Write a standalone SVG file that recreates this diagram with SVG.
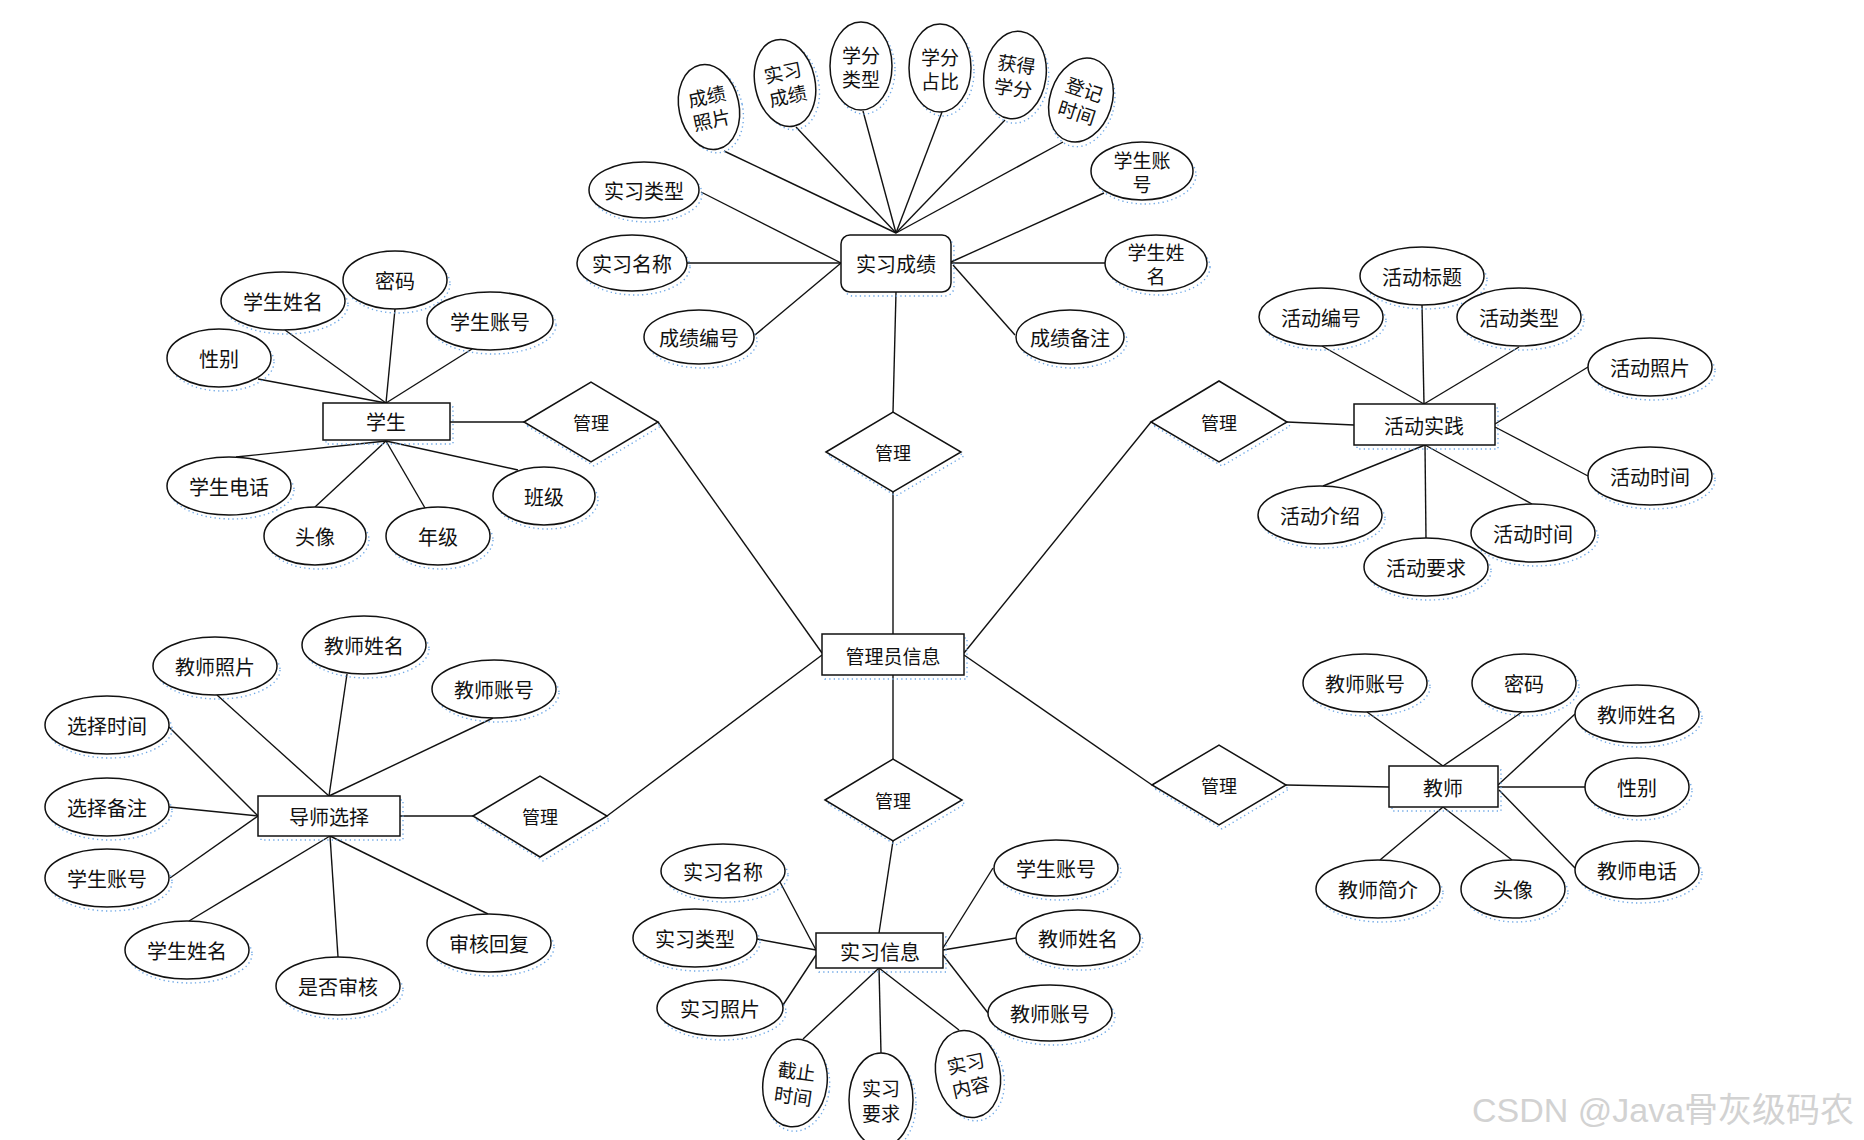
<svg xmlns="http://www.w3.org/2000/svg" width="1864" height="1140" viewBox="0 0 1864 1140">
<style>
.bg{fill:#fff}
.c line{stroke:#111;stroke-width:1.4;fill:none}
.e{fill:#fff;stroke:#111;stroke-width:1.5}
.sh{fill:none;stroke:#6fa8e6;stroke-width:1.4;stroke-dasharray:1.3 3.2;transform:translate(3px,4px)}
.t{font-family:"Noto Sans CJK SC","Noto Sans CJK TC",sans-serif;font-size:20px;fill:#111;text-anchor:middle;dominant-baseline:central}
.s19{font-size:19px}
.s18{font-size:18px}
.wm{font-family:"Liberation Sans","Noto Sans CJK SC",sans-serif;font-size:34px;fill:#d2d2d2}
</style>
<rect class="bg" x="0" y="0" width="1864" height="1140"/>

<g id="connectors" class="c">
<!-- 实习成绩 -->
<line x1="724" y1="151" x2="896" y2="233"/>
<line x1="796" y1="127" x2="896" y2="233"/>
<line x1="863" y1="111" x2="896" y2="233"/>
<line x1="942" y1="112" x2="896" y2="233"/>
<line x1="1005" y1="120" x2="896" y2="233"/>
<line x1="1063" y1="142" x2="896" y2="233"/>
<line x1="701" y1="192" x2="841" y2="263"/>
<line x1="686" y1="263" x2="841" y2="263"/>
<line x1="755" y1="335" x2="841" y2="263"/>
<line x1="1104" y1="193" x2="951" y2="262"/>
<line x1="1105" y1="263" x2="951" y2="263"/>
<line x1="1015" y1="335" x2="953" y2="265"/>
<line x1="896" y1="292" x2="893" y2="412"/>
<line x1="893" y1="492" x2="893" y2="634"/>
<!-- 学生 -->
<line x1="285" y1="330" x2="386" y2="403"/>
<line x1="395" y1="309" x2="386" y2="403"/>
<line x1="472" y1="349" x2="386" y2="403"/>
<line x1="258" y1="379" x2="386" y2="403"/>
<line x1="236" y1="457" x2="386" y2="441"/>
<line x1="315" y1="507" x2="386" y2="441"/>
<line x1="425" y1="508" x2="386" y2="441"/>
<line x1="518" y1="470" x2="386" y2="441"/>
<line x1="450" y1="422" x2="524" y2="422"/>
<line x1="658" y1="422" x2="822" y2="653"/>
<!-- 活动实践 -->
<line x1="1322" y1="346" x2="1424" y2="404"/>
<line x1="1422" y1="305" x2="1424" y2="404"/>
<line x1="1519" y1="347" x2="1424" y2="404"/>
<line x1="1588" y1="367" x2="1495" y2="424"/>
<line x1="1588" y1="476" x2="1495" y2="427"/>
<line x1="1323" y1="486" x2="1425" y2="445"/>
<line x1="1426" y1="538" x2="1425" y2="445"/>
<line x1="1532" y1="504" x2="1425" y2="445"/>
<line x1="1287" y1="422" x2="1354" y2="425"/>
<line x1="1151" y1="422" x2="964" y2="653"/>
<!-- 导师选择 -->
<line x1="217" y1="695" x2="329" y2="796"/>
<line x1="347" y1="674" x2="329" y2="796"/>
<line x1="493" y1="718" x2="329" y2="796"/>
<line x1="169" y1="727" x2="258" y2="816"/>
<line x1="169" y1="807" x2="258" y2="816"/>
<line x1="170" y1="878" x2="258" y2="816"/>
<line x1="189" y1="921" x2="330" y2="836"/>
<line x1="338" y1="957" x2="330" y2="836"/>
<line x1="488" y1="914" x2="330" y2="836"/>
<line x1="400" y1="816" x2="473" y2="816"/>
<line x1="607" y1="816" x2="822" y2="655"/>
<!-- 教师 -->
<line x1="1367" y1="712" x2="1443" y2="766"/>
<line x1="1522" y1="712" x2="1443" y2="766"/>
<line x1="1575" y1="714" x2="1498" y2="785"/>
<line x1="1585" y1="787" x2="1498" y2="787"/>
<line x1="1575" y1="868" x2="1499" y2="790"/>
<line x1="1380" y1="860" x2="1443" y2="807"/>
<line x1="1512" y1="860" x2="1443" y2="807"/>
<line x1="1286" y1="785" x2="1389" y2="787"/>
<line x1="1152" y1="785" x2="964" y2="655"/>
<!-- 管理员信息 -> 实习信息 -->
<line x1="893" y1="675" x2="893" y2="759"/>
<line x1="893" y1="841" x2="879" y2="933"/>
<!-- 实习信息 -->
<line x1="780" y1="882" x2="816" y2="950"/>
<line x1="757" y1="939" x2="816" y2="950"/>
<line x1="783" y1="1005" x2="816" y2="955"/>
<line x1="803" y1="1039" x2="879" y2="968"/>
<line x1="881" y1="1053" x2="879" y2="968"/>
<line x1="959" y1="1030" x2="879" y2="968"/>
<line x1="993" y1="868" x2="943" y2="948"/>
<line x1="1016" y1="938" x2="943" y2="950"/>
<line x1="988" y1="1013" x2="943" y2="955"/>
</g>

<!-- ===== 实习成绩 ===== -->
<g id="e-sxcj"><rect class="sh" x="841" y="235" width="110" height="57" rx="9"/><rect class="e" x="841" y="235" width="110" height="57" rx="9"/><text class="t" x="896" y="263">实习成绩</text></g>
<g id="a-cjzp" transform="rotate(-12 709 107)"><ellipse class="sh" cx="709" cy="107" rx="30" ry="43"/><ellipse class="e" cx="709" cy="107" rx="30" ry="43"/><text class="t s19" x="709" y="95">成绩</text><text class="t s19" x="709" y="119">照片</text></g>
<g id="a-sxcj2" transform="rotate(-12 785 83)"><ellipse class="sh" cx="785" cy="83" rx="30" ry="44"/><ellipse class="e" cx="785" cy="83" rx="30" ry="44"/><text class="t s19" x="785" y="71">实习</text><text class="t s19" x="785" y="95">成绩</text></g>
<g id="a-xflx"><ellipse class="sh" cx="861" cy="66" rx="31" ry="44"/><ellipse class="e" cx="861" cy="66" rx="31" ry="44"/><text class="t s19" x="861" y="54">学分</text><text class="t s19" x="861" y="78">类型</text></g>
<g id="a-xfzb"><ellipse class="sh" cx="940" cy="68" rx="31" ry="44"/><ellipse class="e" cx="940" cy="68" rx="31" ry="44"/><text class="t s19" x="940" y="56">学分</text><text class="t s19" x="940" y="80">占比</text></g>
<g id="a-hdxf" transform="rotate(8 1015 75)"><ellipse class="sh" cx="1015" cy="75" rx="31" ry="44"/><ellipse class="e" cx="1015" cy="75" rx="31" ry="44"/><text class="t s19" x="1015" y="63">获得</text><text class="t s19" x="1015" y="87">学分</text></g>
<g id="a-djsj" transform="rotate(18 1081 100)"><ellipse class="sh" cx="1081" cy="100" rx="31" ry="43"/><ellipse class="e" cx="1081" cy="100" rx="31" ry="43"/><text class="t s19" x="1081" y="88">登记</text><text class="t s19" x="1081" y="112">时间</text></g>
<g id="a-sxlx1"><ellipse class="sh" cx="644" cy="190" rx="55" ry="28"/><ellipse class="e" cx="644" cy="190" rx="55" ry="28"/><text class="t" x="644" y="190">实习类型</text></g>
<g id="a-sxmc1"><ellipse class="sh" cx="632" cy="263" rx="55" ry="28"/><ellipse class="e" cx="632" cy="263" rx="55" ry="28"/><text class="t" x="632" y="263">实习名称</text></g>
<g id="a-cjbh"><ellipse class="sh" cx="699" cy="337" rx="55" ry="27"/><ellipse class="e" cx="699" cy="337" rx="55" ry="27"/><text class="t" x="699" y="337">成绩编号</text></g>
<g id="a-xszh1"><ellipse class="sh" cx="1142" cy="171" rx="51" ry="29"/><ellipse class="e" cx="1142" cy="171" rx="51" ry="29"/><text class="t s19" x="1142" y="159">学生账</text><text class="t s19" x="1142" y="183">号</text></g>
<g id="a-xsxm1"><ellipse class="sh" cx="1156" cy="263" rx="51" ry="28"/><ellipse class="e" cx="1156" cy="263" rx="51" ry="28"/><text class="t s19" x="1156" y="251">学生姓</text><text class="t s19" x="1156" y="275">名</text></g>
<g id="a-cjbz"><ellipse class="sh" cx="1070" cy="337" rx="54" ry="27"/><ellipse class="e" cx="1070" cy="337" rx="54" ry="27"/><text class="t" x="1070" y="337">成绩备注</text></g>
<g id="r-top"><polygon class="sh" points="826,452 893,412 961,452 893,492"/><polygon class="e" points="826,452 893,412 961,452 893,492"/><text class="t s18" x="893" y="452">管理</text></g>

<!-- ===== 学生 ===== -->
<g id="e-xs"><rect class="sh" x="323" y="403" width="127" height="37"/><rect class="e" x="323" y="403" width="127" height="37"/><text class="t" x="386" y="421">学生</text></g>
<g id="a-xsxm2"><ellipse class="sh" cx="283" cy="301" rx="62" ry="29"/><ellipse class="e" cx="283" cy="301" rx="62" ry="29"/><text class="t" x="283" y="301">学生姓名</text></g>
<g id="a-mm1"><ellipse class="sh" cx="395" cy="280" rx="52" ry="29"/><ellipse class="e" cx="395" cy="280" rx="52" ry="29"/><text class="t" x="395" y="280">密码</text></g>
<g id="a-xszh2"><ellipse class="sh" cx="490" cy="321" rx="63" ry="29"/><ellipse class="e" cx="490" cy="321" rx="63" ry="29"/><text class="t" x="490" y="321">学生账号</text></g>
<g id="a-xb1"><ellipse class="sh" cx="219" cy="358" rx="52" ry="29"/><ellipse class="e" cx="219" cy="358" rx="52" ry="29"/><text class="t" x="219" y="358">性别</text></g>
<g id="a-xsdh"><ellipse class="sh" cx="229" cy="486" rx="62" ry="29"/><ellipse class="e" cx="229" cy="486" rx="62" ry="29"/><text class="t" x="229" y="486">学生电话</text></g>
<g id="a-tx1"><ellipse class="sh" cx="315" cy="536" rx="51" ry="29"/><ellipse class="e" cx="315" cy="536" rx="51" ry="29"/><text class="t" x="315" y="536">头像</text></g>
<g id="a-nj"><ellipse class="sh" cx="438" cy="536" rx="52" ry="29"/><ellipse class="e" cx="438" cy="536" rx="52" ry="29"/><text class="t" x="438" y="536">年级</text></g>
<g id="a-bj"><ellipse class="sh" cx="544" cy="496" rx="51" ry="29"/><ellipse class="e" cx="544" cy="496" rx="51" ry="29"/><text class="t" x="544" y="496">班级</text></g>
<g id="r-xs"><polygon class="sh" points="524,422 591,382 658,422 591,462"/><polygon class="e" points="524,422 591,382 658,422 591,462"/><text class="t s18" x="591" y="422">管理</text></g>

<!-- ===== 活动实践 ===== -->
<g id="e-hdsj"><rect class="sh" x="1354" y="404" width="141" height="41"/><rect class="e" x="1354" y="404" width="141" height="41"/><text class="t" x="1424" y="425">活动实践</text></g>
<g id="a-hdbh"><ellipse class="sh" cx="1321" cy="317" rx="62" ry="29"/><ellipse class="e" cx="1321" cy="317" rx="62" ry="29"/><text class="t" x="1321" y="317">活动编号</text></g>
<g id="a-hdbt"><ellipse class="sh" cx="1422" cy="276" rx="62" ry="29"/><ellipse class="e" cx="1422" cy="276" rx="62" ry="29"/><text class="t" x="1422" y="276">活动标题</text></g>
<g id="a-hdlx"><ellipse class="sh" cx="1519" cy="317" rx="62" ry="29"/><ellipse class="e" cx="1519" cy="317" rx="62" ry="29"/><text class="t" x="1519" y="317">活动类型</text></g>
<g id="a-hdzp"><ellipse class="sh" cx="1650" cy="367" rx="62" ry="29"/><ellipse class="e" cx="1650" cy="367" rx="62" ry="29"/><text class="t" x="1650" y="367">活动照片</text></g>
<g id="a-hdsj1"><ellipse class="sh" cx="1650" cy="476" rx="62" ry="29"/><ellipse class="e" cx="1650" cy="476" rx="62" ry="29"/><text class="t" x="1650" y="476">活动时间</text></g>
<g id="a-hdjs"><ellipse class="sh" cx="1320" cy="515" rx="62" ry="29"/><ellipse class="e" cx="1320" cy="515" rx="62" ry="29"/><text class="t" x="1320" y="515">活动介绍</text></g>
<g id="a-hdyq"><ellipse class="sh" cx="1426" cy="567" rx="62" ry="29"/><ellipse class="e" cx="1426" cy="567" rx="62" ry="29"/><text class="t" x="1426" y="567">活动要求</text></g>
<g id="a-hdsj2"><ellipse class="sh" cx="1533" cy="533" rx="62" ry="29"/><ellipse class="e" cx="1533" cy="533" rx="62" ry="29"/><text class="t" x="1533" y="533">活动时间</text></g>
<g id="r-hd"><polygon class="sh" points="1151,422 1219,381 1287,422 1219,462"/><polygon class="e" points="1151,422 1219,381 1287,422 1219,462"/><text class="t s18" x="1219" y="422">管理</text></g>

<!-- ===== 管理员信息 ===== -->
<g id="e-gly"><rect class="sh" x="822" y="634" width="142" height="41"/><rect class="e" x="822" y="634" width="142" height="41"/><text class="t s19" x="893" y="655">管理员信息</text></g>

<!-- ===== 导师选择 ===== -->
<g id="e-dsxz"><rect class="sh" x="258" y="796" width="142" height="40"/><rect class="e" x="258" y="796" width="142" height="40"/><text class="t" x="329" y="816">导师选择</text></g>
<g id="a-jszp"><ellipse class="sh" cx="215" cy="666" rx="62" ry="29"/><ellipse class="e" cx="215" cy="666" rx="62" ry="29"/><text class="t" x="215" y="666">教师照片</text></g>
<g id="a-jsxm1"><ellipse class="sh" cx="364" cy="645" rx="62" ry="29"/><ellipse class="e" cx="364" cy="645" rx="62" ry="29"/><text class="t" x="364" y="645">教师姓名</text></g>
<g id="a-jszh1"><ellipse class="sh" cx="494" cy="689" rx="62" ry="29"/><ellipse class="e" cx="494" cy="689" rx="62" ry="29"/><text class="t" x="494" y="689">教师账号</text></g>
<g id="a-xzsj"><ellipse class="sh" cx="107" cy="725" rx="62" ry="29"/><ellipse class="e" cx="107" cy="725" rx="62" ry="29"/><text class="t" x="107" y="725">选择时间</text></g>
<g id="a-xzbz"><ellipse class="sh" cx="107" cy="807" rx="62" ry="29"/><ellipse class="e" cx="107" cy="807" rx="62" ry="29"/><text class="t" x="107" y="807">选择备注</text></g>
<g id="a-xszh3"><ellipse class="sh" cx="107" cy="878" rx="62" ry="29"/><ellipse class="e" cx="107" cy="878" rx="62" ry="29"/><text class="t" x="107" y="878">学生账号</text></g>
<g id="a-xsxm3"><ellipse class="sh" cx="187" cy="950" rx="62" ry="29"/><ellipse class="e" cx="187" cy="950" rx="62" ry="29"/><text class="t" x="187" y="950">学生姓名</text></g>
<g id="a-sfsh"><ellipse class="sh" cx="338" cy="986" rx="62" ry="29"/><ellipse class="e" cx="338" cy="986" rx="62" ry="29"/><text class="t" x="338" y="986">是否审核</text></g>
<g id="a-shhf"><ellipse class="sh" cx="489" cy="943" rx="62" ry="29"/><ellipse class="e" cx="489" cy="943" rx="62" ry="29"/><text class="t" x="489" y="943">审核回复</text></g>
<g id="r-ds"><polygon class="sh" points="473,816 540,776 607,816 540,857"/><polygon class="e" points="473,816 540,776 607,816 540,857"/><text class="t s18" x="540" y="816">管理</text></g>

<!-- ===== 教师 ===== -->
<g id="e-js"><rect class="sh" x="1389" y="766" width="109" height="41"/><rect class="e" x="1389" y="766" width="109" height="41"/><text class="t" x="1443" y="787">教师</text></g>
<g id="a-jszh2"><ellipse class="sh" cx="1365" cy="683" rx="62" ry="29"/><ellipse class="e" cx="1365" cy="683" rx="62" ry="29"/><text class="t" x="1365" y="683">教师账号</text></g>
<g id="a-mm2"><ellipse class="sh" cx="1524" cy="683" rx="52" ry="29"/><ellipse class="e" cx="1524" cy="683" rx="52" ry="29"/><text class="t" x="1524" y="683">密码</text></g>
<g id="a-jsxm2"><ellipse class="sh" cx="1637" cy="714" rx="62" ry="29"/><ellipse class="e" cx="1637" cy="714" rx="62" ry="29"/><text class="t" x="1637" y="714">教师姓名</text></g>
<g id="a-xb2"><ellipse class="sh" cx="1637" cy="787" rx="52" ry="29"/><ellipse class="e" cx="1637" cy="787" rx="52" ry="29"/><text class="t" x="1637" y="787">性别</text></g>
<g id="a-jsdh"><ellipse class="sh" cx="1637" cy="870" rx="62" ry="29"/><ellipse class="e" cx="1637" cy="870" rx="62" ry="29"/><text class="t" x="1637" y="870">教师电话</text></g>
<g id="a-jsjj"><ellipse class="sh" cx="1378" cy="889" rx="62" ry="29"/><ellipse class="e" cx="1378" cy="889" rx="62" ry="29"/><text class="t" x="1378" y="889">教师简介</text></g>
<g id="a-tx2"><ellipse class="sh" cx="1513" cy="889" rx="52" ry="29"/><ellipse class="e" cx="1513" cy="889" rx="52" ry="29"/><text class="t" x="1513" y="889">头像</text></g>
<g id="r-js"><polygon class="sh" points="1152,785 1219,745 1286,785 1219,825"/><polygon class="e" points="1152,785 1219,745 1286,785 1219,825"/><text class="t s18" x="1219" y="785">管理</text></g>

<!-- ===== 实习信息 ===== -->
<g id="r-sx"><polygon class="sh" points="825,800 893,759 962,800 893,841"/><polygon class="e" points="825,800 893,759 962,800 893,841"/><text class="t s18" x="893" y="800">管理</text></g>
<g id="e-sxxx"><rect class="sh" x="816" y="933" width="127" height="35"/><rect class="e" x="816" y="933" width="127" height="35"/><text class="t" x="880" y="951">实习信息</text></g>
<g id="a-sxmc2"><ellipse class="sh" cx="723" cy="871" rx="62" ry="27"/><ellipse class="e" cx="723" cy="871" rx="62" ry="27"/><text class="t" x="723" y="871">实习名称</text></g>
<g id="a-sxlx2"><ellipse class="sh" cx="695" cy="938" rx="62" ry="29"/><ellipse class="e" cx="695" cy="938" rx="62" ry="29"/><text class="t" x="695" y="938">实习类型</text></g>
<g id="a-sxzp"><ellipse class="sh" cx="720" cy="1008" rx="63" ry="28"/><ellipse class="e" cx="720" cy="1008" rx="63" ry="28"/><text class="t" x="720" y="1008">实习照片</text></g>
<g id="a-jzsj" transform="rotate(8 795 1083)"><ellipse class="sh" cx="795" cy="1083" rx="32" ry="44"/><ellipse class="e" cx="795" cy="1083" rx="32" ry="44"/><text class="t s19" x="795" y="1070">截止</text><text class="t s19" x="795" y="1095">时间</text></g>
<g id="a-sxyq"><ellipse class="sh" cx="881" cy="1100" rx="32" ry="47"/><ellipse class="e" cx="881" cy="1100" rx="32" ry="47"/><text class="t s19" x="881" y="1087">实习</text><text class="t s19" x="881" y="1112">要求</text></g>
<g id="a-sxnr" transform="rotate(-12 968 1074)"><ellipse class="sh" cx="968" cy="1074" rx="32" ry="44"/><ellipse class="e" cx="968" cy="1074" rx="32" ry="44"/><text class="t s19" x="968" y="1062">实习</text><text class="t s19" x="968" y="1086">内容</text></g>
<g id="a-xszh4"><ellipse class="sh" cx="1056" cy="868" rx="62" ry="28"/><ellipse class="e" cx="1056" cy="868" rx="62" ry="28"/><text class="t" x="1056" y="868">学生账号</text></g>
<g id="a-jsxm3"><ellipse class="sh" cx="1078" cy="938" rx="62" ry="28"/><ellipse class="e" cx="1078" cy="938" rx="62" ry="28"/><text class="t" x="1078" y="938">教师姓名</text></g>
<g id="a-jszh3"><ellipse class="sh" cx="1050" cy="1013" rx="62" ry="28"/><ellipse class="e" cx="1050" cy="1013" rx="62" ry="28"/><text class="t" x="1050" y="1013">教师账号</text></g>

<text class="wm" x="1472" y="1122">CSDN @Java骨灰级码农</text>
</svg>
